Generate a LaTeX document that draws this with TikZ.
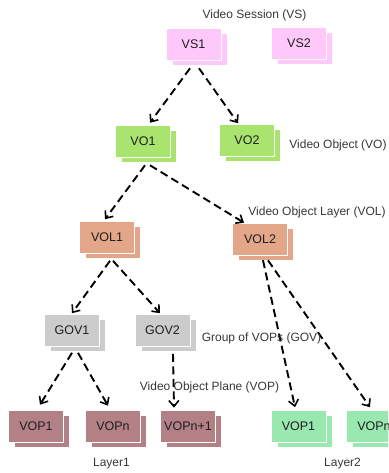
\documentclass[tikz,border=0pt]{standalone}
\usepackage{fontspec}
\setmainfont{Liberation Sans}
\usetikzlibrary{arrows.meta,shadows,calc}
\definecolor{vscol}{RGB}{255,200,250}
\definecolor{vocol}{RGB}{169,229,110}
\definecolor{volcol}{RGB}{228,166,136}
\definecolor{govcol}{RGB}{204,204,204}
\definecolor{vopcol}{RGB}{179,128,134}
\definecolor{vopgcol}{RGB}{152,232,176}
\definecolor{txtcol}{RGB}{30,30,30}
\definecolor{lblcol}{RGB}{55,55,55}
\begin{document}
\begin{tikzpicture}[x=1pt,y=-1pt,
  unit/.style={minimum width=55pt,minimum height=32pt,inner sep=0pt,
    draw=white,line width=0.6pt,text=txtcol,font=\fontsize{12.5}{14}\selectfont,
    text depth=-2.5pt,
    copy shadow={shadow xshift=6pt,shadow yshift=-5pt}},
  caption/.style={text=lblcol,inner sep=0pt,font=\fontsize{12}{14}\selectfont},
  link/.style={line width=1.9pt,dash pattern=on 8pt off 4.5pt,
    -{Straight Barb[length=6pt,width=10pt,line width=1.6pt]}}]
\useasboundingbox (0,0) rectangle (388,473);
\clip (0,0) rectangle (388,473);

% sessions
\node[unit,fill=vscol] (vs1) at (193.5,44) {VS1};
\node[unit,fill=vscol] (vs2) at (299,43) {VS2};
% objects
\node[unit,fill=vocol] (vo1) at (143,141) {VO1};
\node[unit,fill=vocol] (vo2) at (247,140.5) {VO2};
% layers
\node[unit,fill=volcol] (vol1) at (107,237.5) {VOL1};
\node[unit,fill=volcol] (vol2) at (260,239) {VOL2};
% groups of VOPs
\node[unit,fill=govcol] (gov1) at (72,330.5) {GOV1};
\node[unit,fill=govcol] (gov2) at (162.5,330.5) {GOV2};
% planes, layer 1
\node[unit,fill=vopcol] (vopa) at (36,426) {VOP1};
\node[unit,fill=vopcol] (vopb) at (113,426) {VOPn};
\node[unit,fill=vopcol] (vopc) at (188,426) {VOPn+1};
% planes, layer 2
\node[unit,fill=vopgcol] (vopd) at (298.5,426.5) {VOP1};
\node[unit,fill=vopgcol] (vope) at (374,426.5) {VOPn};

% hierarchy links
\draw[link] ($(vs1.south)+(-3.5,8)$) -- ($(vo1.north)+(7,-2)$);
\draw[link] ($(vs1.south)+(5.5,8)$) -- ($(vo2.north)+(-9,-1)$);
\draw[link] ($(vo1.south)+(2,8)$) -- ($(vol1.north)+(-2,-2)$);
\draw[link] ($(vo1.south)+(7,8)$) -- ($(vol2.north)+(-16,0)$);
\draw[link] ($(vol1.south)+(3,7)$) -- ($(gov1.north)+(0,-1)$);
\draw[link] ($(vol1.south)+(6,7)$) -- ($(gov2.north)+(-2.5,-1)$);
\draw[link] ($(gov1.south)+(0,6)$) -- ($(vopa.north)+(4,-5)$);
\draw[link] ($(gov1.south)+(6,6)$) -- ($(vopb.north)+(-5,-4)$);
\draw[link] ($(gov2.south)+(10.5,7)$) -- ($(vopc.north)+(-14,-2)$);
\draw[link] ($(vol2.south)+(3,5)$) -- ($(vopd.north)+(-3.5,-3)$);
\draw[link] ($(vol2.south)+(8,5)$) -- ($(vope.north)+(-4,-3)$);

% level captions
\node[caption] (lvs) at (254.5,15) {Video Session (VS)};
\node[caption] (lvo) at (338,145) {Video Object (VO)};
\node[caption] (lvol) at (317,212) {Video Object Layer (VOL)};
\node[caption] (lgov) at (261.5,338) {Group of VOPs (GOV)};
\node[caption] (lvop) at (209.5,387) {Video Object Plane (VOP)};
\node[caption] (lay1) at (111.5,464) {Layer1};
\node[caption] (lay2) at (342.5,464) {Layer2};
\end{tikzpicture}
\end{document}
